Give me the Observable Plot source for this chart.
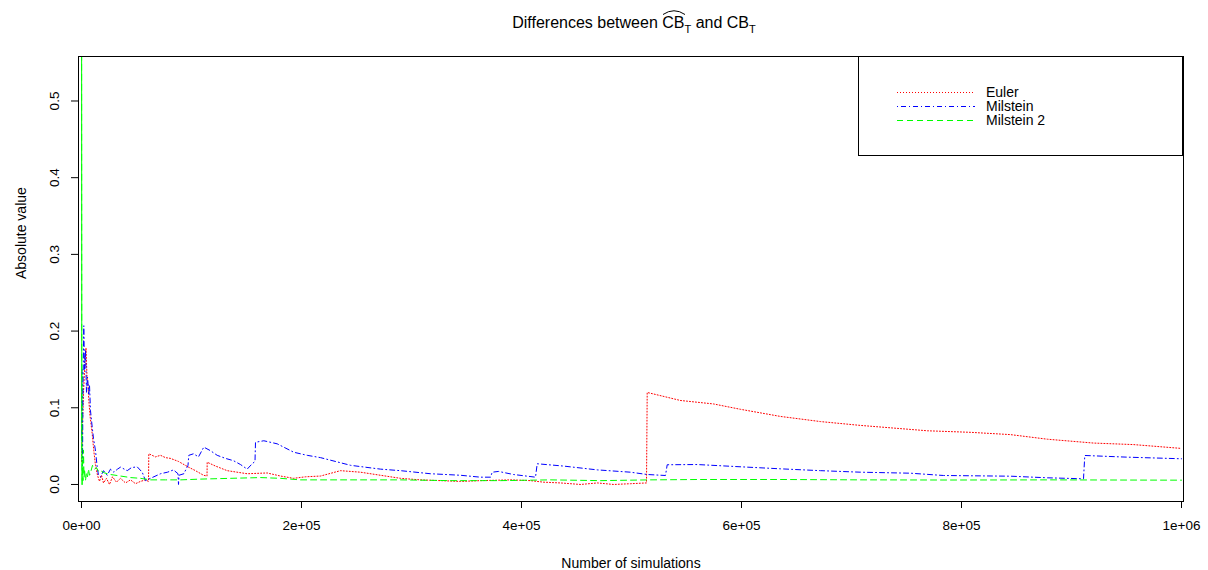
<!DOCTYPE html>
<html>
<head>
<meta charset="utf-8">
<script src="https://cdn.jsdelivr.net/npm/d3@7"></script>
<script src="https://cdn.jsdelivr.net/npm/@observablehq/plot@0.6"></script>
<style>
  body { margin: 0; background: #fff; }
  #wrap { position: relative; width: 1208px; height: 570px; font-family: "Liberation Sans", Arial, sans-serif; }
  #title { position: absolute; top: 15px; left: 30px; width: 1208px; text-align: center; font-size: 16px; line-height: 1; color: #000; }
  #title .hat { position: relative; display: inline-block; }
  #title .hat svg { position: absolute; left: 0; top: -6px; }
  #title sub { font-size: 11px; vertical-align: -5px; line-height: 0; }
  #legend { position: absolute; left: 0; top: 0; pointer-events: none; }
  #chart { position: absolute; left: 0; top: 0; }
</style>
</head>
<body>
<div id="wrap">
  <div id="chart"></div>
  <div id="title">Differences between <span class="hat">CB<svg width="24" height="6"><path d="M1,5.5 Q12,-2 23,5.5" fill="none" stroke="#000" stroke-width="1"/></svg></span><sub>T</sub> and CB<sub>T</sub></div>
</div>
<script>
// ---- Data ----
const eulerN = [1, 909, 1818, 3182, 4091, 5000, 5909, 6636, 7727, 9727, 11182, 12727, 14545, 16364, 18182, 20000, 22727, 25455, 28182, 31818, 35455, 40000, 44545, 49091, 53636, 58182, 60909, 61182, 67273, 71818, 76364, 80909, 88182, 97273, 103636, 110909, 114091, 114273, 121818, 132455, 150636, 168818, 180909, 192727, 203636, 217273, 235455, 253636, 271818, 290000, 308182, 326364, 344545, 362727, 390000, 408182, 420000, 435455, 453636, 469091, 483636, 499091, 513636, 514273, 544545, 574545, 599091, 635455, 671818, 708182, 769091, 808182, 844545, 878182, 920000, 956364, 1000000];
const eulerErr = [0.03, 0.08, 0.12, 0.16, 0.178, 0.14, 0.13, 0.11, 0.09, 0.066, 0.044, 0.025, 0.012, 0.004, 0.012, 0.002, 0.008, 0.0, 0.01, 0.003, 0.008, 0.002, 0.006, 0.001, 0.004, 0.006, 0.004, 0.04, 0.036, 0.038, 0.035, 0.034, 0.03, 0.0226, 0.018, 0.012, 0.011, 0.029, 0.024, 0.018, 0.014, 0.015, 0.011, 0.008, 0.01, 0.011, 0.018, 0.016, 0.012, 0.008, 0.006, 0.005, 0.004, 0.005, 0.006, 0.005, 0.003, 0.002, 0.0, 0.002, 0.0, 0.001, 0.002, 0.12, 0.1095, 0.105, 0.098, 0.0887, 0.082, 0.077, 0.07, 0.068, 0.065, 0.059, 0.054, 0.052, 0.047];

const milN = [1, 455, 909, 1364, 2091, 2727, 3636, 4545, 5455, 6636, 7273, 8182, 9727, 10909, 12727, 14273, 15455, 17273, 20000, 23364, 26364, 29364, 32727, 35455, 41545, 45455, 50636, 55182, 58182, 62727, 71818, 78182, 83636, 87727, 88182, 88636, 93000, 96818, 97545, 101818, 106364, 111182, 117273, 123364, 130909, 138182, 144545, 150636, 155182, 157727, 158182, 165727, 177909, 193000, 205182, 217273, 244545, 271818, 290000, 317273, 344545, 362727, 371818, 373364, 379091, 392727, 412727, 414273, 438182, 469091, 499091, 514273, 530909, 532455, 559727, 605182, 635455, 671818, 708182, 753636, 783636, 844545, 878182, 910909, 912091, 950909, 1000000];
const milErr = [0.06, 0.15, 0.02, 0.13, 0.207, 0.15, 0.175, 0.12, 0.14, 0.118, 0.13, 0.096, 0.075, 0.06, 0.044, 0.0226, 0.012, 0.01, 0.018, 0.012, 0.02, 0.016, 0.02, 0.0226, 0.018, 0.022, 0.023, 0.016, 0.005, 0.008, 0.014, 0.016, 0.019, 0.014, 0.0, 0.012, 0.014, 0.025, 0.038, 0.04, 0.036, 0.0487, 0.044, 0.038, 0.034, 0.031, 0.026, 0.02, 0.027, 0.03, 0.055, 0.057, 0.053, 0.042, 0.038, 0.035, 0.025, 0.02, 0.018, 0.014, 0.012, 0.0095, 0.0095, 0.016, 0.017, 0.013, 0.0095, 0.027, 0.024, 0.019, 0.016, 0.013, 0.0117, 0.0257, 0.026, 0.0226, 0.0204, 0.018, 0.016, 0.0147, 0.0117, 0.0108, 0.0087, 0.0074, 0.0378, 0.0356, 0.0335];

const mil2N = [1, 273, 545, 909, 1364, 1818, 2273, 2727, 3636, 4545, 5455, 6364, 7273, 8182, 10000, 11818, 13636, 15455, 17273, 20909, 26364, 35455, 44545, 53636, 62727, 76364, 90000, 108182, 135455, 162727, 180909, 199091, 244545, 290000, 335455, 380909, 426364, 471818, 517273, 562727, 635455, 708182, 790000, 880909, 1000000];
const mil2Err = [0.9, 0.05, 0.0, 0.03, 0.005, 0.045, 0.01, 0.02, 0.005, 0.015, 0.01, 0.02, 0.012, 0.015, 0.025, 0.02, 0.022, 0.017, 0.018, 0.015, 0.013, 0.011, 0.009, 0.008, 0.006, 0.006, 0.006, 0.007, 0.008, 0.009, 0.008, 0.006, 0.006, 0.006, 0.005, 0.005, 0.006, 0.005, 0.006, 0.0065, 0.0065, 0.006, 0.0058, 0.006, 0.0056];

const seriesNames = ["Euler", "Milstein", "Milstein 2"];
const seriesColors = ["#ff0000", "#0000ff", "#00ff00"];
const seriesDash = ["1,2", "1,3,5,3", "6,4"];

const xTicks = [0, 200000, 400000, 600000, 800000, 1000000];
const xTickLabels = ["0e+00", "2e+05", "4e+05", "6e+05", "8e+05", "1e+06"];
const yTicks = [0, 0.1, 0.2, 0.3, 0.4, 0.5];
const yTickLabels = ["0.0", "0.1", "0.2", "0.3", "0.4", "0.5"];
const xTitle = "Number of simulations";
const yTitle = "Absolute value";

// ---- Build tables ----
const toRows = (ns, vs) => ns.map((n, i) => ({n, v: vs[i]}));
const series = [toRows(eulerN, eulerErr), toRows(milN, milErr), toRows(mil2N, mil2Err)];

const W = 1208, H = 570;
const mL = 78, mR = 25, mT = 56, mB = 69;

const lineMarks = series.map((rows, i) =>
  Plot.line(rows, {x: "n", y: "v", stroke: seriesColors[i], strokeWidth: 1, strokeDasharray: seriesDash[i], clip: true})
);
// the first, very dense burst of Milstein 2 overlaps itself and reads as a solid stroke
const greenHead = Plot.line(series[2].slice(0, 3), {x: "n", y: "v", stroke: seriesColors[2], strokeWidth: 1, clip: true});

const chart = Plot.plot({
  width: W, height: H,
  marginLeft: mL, marginRight: mR, marginTop: mT, marginBottom: mB,
  style: {fontFamily: '"Liberation Sans", Arial, sans-serif', fontSize: "13.5px", color: "#000", background: "transparent"},
  x: {domain: [-2727, 1001818]},
  y: {domain: [-0.0222, 0.558]},
  marks: [
    ...lineMarks,
    greenHead,
    Plot.frame({stroke: "#000", strokeWidth: 1}),
    Plot.axisX({ticks: xTicks, tickSize: 7, tickPadding: 12, tickFormat: d => xTickLabels[xTicks.indexOf(d)], label: null, stroke: "#000"}),
    Plot.axisY({ticks: yTicks, tickSize: 7, tickPadding: 13, tickRotate: -90, tickFormat: d => yTickLabels[yTicks.findIndex(t => Math.abs(t - d) < 1e-9)], label: null, stroke: "#000"}),
    Plot.text([xTitle], {frameAnchor: "bottom", text: d => d, dy: 66, lineAnchor: "bottom", fontSize: 14}),
    Plot.text([yTitle], {frameAnchor: "left", text: d => d, dx: -53, rotate: -90, lineAnchor: "bottom", fontSize: 14})
  ]
});
document.getElementById("chart").appendChild(chart);

// ---- Legend (R-style box in the top-right corner) ----
const leg = d3.select("#wrap").append("svg").attr("id", "legend").attr("width", W).attr("height", H);
const boxX = 858, boxY = mT, boxW = W - mR - 858, boxH = 99;
leg.append("rect").attr("x", boxX + 0.5).attr("y", boxY + 0.5).attr("width", boxW - 1).attr("height", boxH)
  .attr("fill", "#fff").attr("stroke", "#000");
seriesNames.forEach((name, i) => {
  const yy = 92 + i * 14;
  leg.append("line").attr("x1", 897).attr("x2", 975).attr("y1", yy + 0.5).attr("y2", yy + 0.5)
    .attr("stroke", seriesColors[i]).attr("stroke-dasharray", seriesDash[i]).attr("stroke-width", 1);
  leg.append("text").attr("x", 986).attr("y", yy).attr("dy", "0.35em")
    .attr("font-family", '"Liberation Sans", Arial, sans-serif').attr("font-size", 14).attr("fill", "#000").text(name);
});
</script>
</body>
</html>
